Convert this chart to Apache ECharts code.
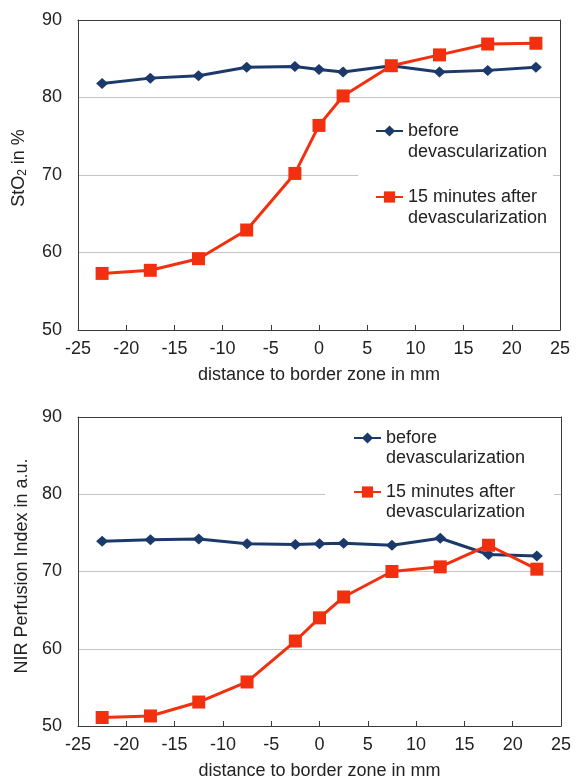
<!DOCTYPE html>
<html>
<head>
<meta charset="utf-8">
<script src="https://cdn.jsdelivr.net/npm/echarts@6/dist/echarts.min.js"></script>
<style>
html,body{margin:0;padding:0;background:#fff;}
#chart{width:576px;height:781px;}
</style>
</head>
<body>
<div id="chart"></div>
<script>
// ---- data ----
const distances = [-22.5, -17.5, -12.5, -7.5, -2.5, 0, 2.5, 7.5, 12.5, 17.5, 22.5];
const sto2Before = [81.8, 82.5, 82.8, 83.9, 84.0, 83.6, 83.3, 84.1, 83.3, 83.5, 83.9];
const sto2After = [57.3, 57.7, 59.2, 62.9, 70.2, 76.4, 80.2, 84.1, 85.5, 86.9, 87.0];
const nirBefore = [73.9, 74.1, 74.2, 73.6, 73.5, 73.6, 73.65, 73.4, 74.3, 72.2, 72.0];
const nirAfter = [51.1, 51.3, 53.1, 55.7, 61.0, 64.0, 66.7, 70.0, 70.6, 73.4, 70.3];
const seriesNames = ['before devascularization', '15 minutes after devascularization'];
const xTitle = 'distance to border zone in mm';
const yTitleTop = 'StO{sub|2} in %';
const yTitleBottom = 'NIR Perfusion Index in a.u.';

const BLUE = '#1b3a6b';
const RED = '#f2300f';
const TXT = '#222';
const AXIS = '#3a3a3a';
const FONT = '"Liberation Sans", Arial, sans-serif';

const pairs = (xs, ys) => xs.map((x, i) => [x, ys[i]]);

function mainX(grid, gap) {
  return {
    gridIndex: grid, type: 'value', min: -25, max: 25, interval: 5,
    axisLine: {show: true, onZero: false, lineStyle: {color: AXIS, width: 1}},
    axisTick: {show: true, inside: true, length: 5, lineStyle: {color: AXIS}},
    axisLabel: {fontSize: 18, color: TXT, margin: 10, fontFamily: FONT},
    splitLine: {show: false},
    name: xTitle, nameLocation: 'middle', nameGap: gap,
    nameTextStyle: {fontSize: 18, color: TXT, fontFamily: FONT},
    z: 3
  };
}
function borderX(grid) {
  return {
    gridIndex: grid, type: 'value', min: -25, max: 25, interval: 5, position: 'top',
    axisLine: {show: true, onZero: false, lineStyle: {color: AXIS, width: 1}},
    axisTick: {show: false}, axisLabel: {show: false}, splitLine: {show: false}, z: 3
  };
}
function mainY(grid, name, gap, pad) {
  return {
    gridIndex: grid, type: 'value', min: 50, max: 90, interval: 10,
    axisLine: {show: true, onZero: false, lineStyle: {color: AXIS, width: 1}},
    axisTick: {show: false},
    axisLabel: {fontSize: 18, color: TXT, margin: 16, fontFamily: FONT},
    splitLine: {show: true, lineStyle: {color: '#c4c4c4', width: 1}},
    name: name, nameLocation: 'middle', nameGap: gap,
    nameTextStyle: {fontSize: 18, color: TXT, fontFamily: FONT, padding: [0, 0, 0, pad],
      rich: {sub: {fontSize: 12, color: TXT, fontFamily: FONT, verticalAlign: 'bottom', padding: [8, 0, 0, 0]}}},
    z: 0
  };
}
function borderY(grid) {
  return {
    gridIndex: grid, type: 'value', min: 50, max: 90, interval: 10, position: 'right',
    axisLine: {show: true, onZero: false, lineStyle: {color: AXIS, width: 1}},
    axisTick: {show: false}, axisLabel: {show: false}, splitLine: {show: false}, z: 3
  };
}
function lineSeries(name, xi, yi, data, color, symbol, size) {
  return {
    name: name, type: 'line', xAxisIndex: xi, yAxisIndex: yi,
    data: data, symbol: symbol, symbolSize: size,
    itemStyle: {color: color}, lineStyle: {color: color, width: 3},
    z: 2
  };
}
// an empty first line keeps the icon level with the first visible line
const legendFmt = n => '\n' + n.replace(' devascularization', '\ndevascularization');
function legend(left, top, padding, gap, lh) {
  return {
    orient: 'vertical', left: left, top: top, padding: padding, itemGap: gap,
    itemWidth: 27, itemHeight: 14, backgroundColor: '#fff', z: 1,
    selectedMode: false, data: seriesNames, formatter: legendFmt,
    textStyle: {fontSize: 18, lineHeight: lh, color: TXT, fontFamily: FONT}
  };
}

const chart = echarts.init(document.getElementById('chart'));
chart.setOption({
  animation: false,
  backgroundColor: '#fff',
  textStyle: {fontFamily: FONT},
  grid: [
    {left: 78, right: 16, top: 20, height: 310, show: false},
    {left: 78, right: 15, top: 417, height: 310, show: false}
  ],
  xAxis: [mainX(0, 36), borderX(0), mainX(1, 36), borderX(1)],
  yAxis: [mainY(0, yTitleTop, 49, 14), borderY(0), mainY(1, yTitleBottom, 46, 11), borderY(1)],
  legend: [
    legend(358, 99.5, [0, 6, 6, 17], 3, 21),
    legend(325, 408, [0, 29, 6, 28], -6, 20)
  ],
  series: [
    lineSeries(seriesNames[0], 0, 0, pairs(distances, sto2Before), BLUE, 'diamond', [12, 11]),
    lineSeries(seriesNames[1], 0, 0, pairs(distances, sto2After), RED, 'rect', 13),
    lineSeries(seriesNames[0], 2, 2, pairs(distances, nirBefore), BLUE, 'diamond', [12, 11]),
    lineSeries(seriesNames[1], 2, 2, pairs(distances, nirAfter), RED, 'rect', 13)
  ]
});
</script>
</body>
</html>
